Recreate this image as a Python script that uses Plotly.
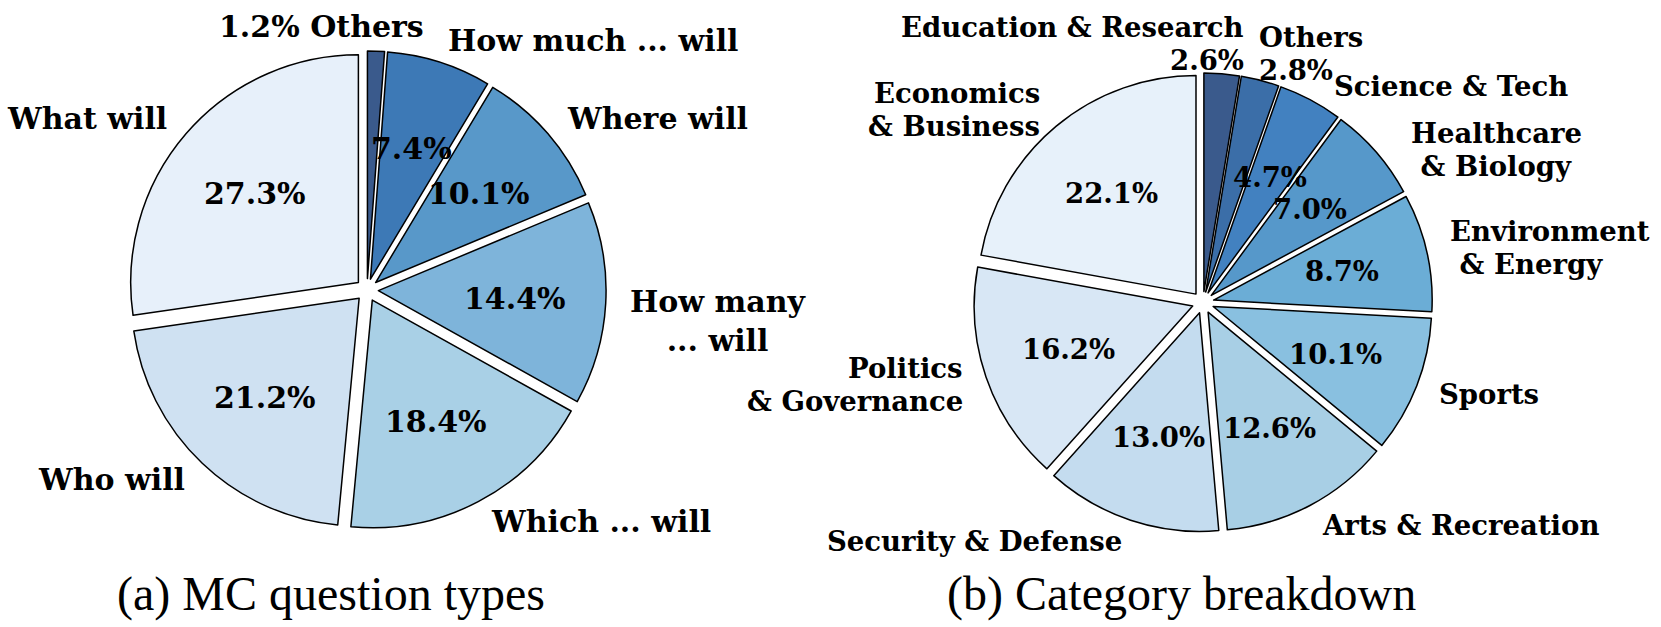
import math
import plotly.graph_objects as go

W, H = 1661, 627

# ---------------- data ----------------
mc_labels = ["Others", "How much ... will", "Where will", "How many\n... will",
             "Which ... will", "Who will", "What will"]
mc_values = [1.2, 7.4, 10.1, 14.4, 18.4, 21.2, 27.3]
mc_colors = ["#3a5a8c", "#3d79b6", "#5898c9", "#7eb4da", "#a9d0e6", "#cfe1f2", "#e7f0fa"]

cat_labels = ["Education & Research", "Others", "Science & Tech", "Healthcare\n\u00a0& Biology",
              "Environment\n\u00a0& Energy", "Sports", "Arts & Recreation", "Security & Defense",
              "Politics\n& Governance", "Economics\n& Business"]
cat_values = [2.6, 2.8, 4.7, 7.0, 8.7, 10.1, 12.6, 13.0, 16.2, 22.1]
cat_colors = ["#3a5a8c", "#3b6ea8", "#4281c0", "#5698ca", "#6badd6", "#89c0e0",
              "#a8cfe5", "#c4dcef", "#d8e7f5", "#e7f1fa"]

subtitles = ["(a) MC question types", "(b) Category breakdown"]

# ---------------- layout constants ----------------
PULL = 0.05
PCT_DIST = 0.6
LABEL_DIST = 1.1
LINE_SPACING = 1.2
SUB_FONT = dict(family="Liberation Serif", size=48, color="black")

pies = [
    dict(labels=mc_labels, values=mc_values, colors=mc_colors, cx=367, cy=290, r=227.7,
         fsize=30,
         pct_in_label={0: "{pct} {lab}"},
         single_block={3: "center"},
         nudge={0: (49, -2, "right"), 3: (0, 16, None)},
         sub=(331, 594)),
    dict(labels=cat_labels, values=cat_values, colors=cat_colors, cx=1203, cy=302.5, r=218.5,
         fsize=27.5,
         pct_in_label={0: "{lab}\n{pct}", 1: "{lab}\n{pct}"},
         single_block={},
         nudge={0: (22, -9, "right"), 1: (-9, -6, None), 2: (11, 5, None), 3: (16, 12, None)},
         sub=(1181, 594)),
]


def px(x):
    return x / W


def py(y):
    return 1 - y / H


fig = go.Figure()
annotations = []

for k, p in enumerate(pies):
    R = p["r"] * (1 + PULL)
    font = dict(family="DejaVu Serif", size=p["fsize"], color="black", weight="bold")
    fig.add_trace(go.Pie(
        labels=[l.replace("\n", " ").replace("\u00a0", "") for l in p["labels"]],
        values=p["values"],
        sort=False,
        direction="clockwise",
        rotation=0,
        pull=[PULL] * len(p["values"]),
        marker=dict(colors=p["colors"], line=dict(color="black", width=1.5)),
        textinfo="none",
        hoverinfo="label+percent",
        showlegend=False,
        domain=dict(x=[px(p["cx"] - R), px(p["cx"] + R)],
                    y=[py(p["cy"] + R), py(p["cy"] - R)]),
    ))

    total = sum(p["values"])
    cum = 0.0
    for i, (lab, v) in enumerate(zip(p["labels"], p["values"])):
        mid = (cum + v / 2) / total * 2 * math.pi
        cum += v
        dx, dy = math.sin(mid), math.cos(mid)
        pct = f"{v:.1f}%"
        # percentage text inside the wedge
        if i not in p["pct_in_label"]:
            d = (PCT_DIST + PULL) * p["r"]
            annotations.append(dict(
                x=px(p["cx"] + d * dx), y=py(p["cy"] - d * dy), xref="paper", yref="paper",
                text=pct, showarrow=False, font=font,
                xanchor="center", yanchor="middle"))
            text = lab
        else:
            text = p["pct_in_label"][i].format(pct=pct, lab=lab)
        # outer label
        d = (LABEL_DIST + PULL) * p["r"]
        lx = p["cx"] + d * dx
        ly = p["cy"] - d * dy
        xa = "left" if dx >= 0 else "right"
        ndx, ndy, nxa = p["nudge"].get(i, (0, 0, None))
        lx += ndx
        ly += ndy
        if nxa:
            xa = nxa
        if i in p["single_block"]:
            annotations.append(dict(
                x=px(lx), y=py(ly), xref="paper", yref="paper",
                text=text.replace("\n", "<br>"), showarrow=False, font=font,
                xanchor=xa, yanchor="middle", align=p["single_block"][i]))
        else:
            lines = text.split("\n")
            n = len(lines)
            step = LINE_SPACING * p["fsize"]
            for j, line in enumerate(lines):
                yy = ly + (j - (n - 1) / 2) * step
                annotations.append(dict(
                    x=px(lx), y=py(yy), xref="paper", yref="paper",
                    text=line, showarrow=False, font=font,
                    xanchor=xa, yanchor="middle"))

    sx, sy = p["sub"]
    annotations.append(dict(
        x=px(sx), y=py(sy), xref="paper", yref="paper", text=subtitles[k],
        showarrow=False, font=SUB_FONT, xanchor="center", yanchor="middle"))

fig.update_layout(
    width=W, height=H,
    margin=dict(l=0, r=0, t=0, b=0),
    paper_bgcolor="white",
    plot_bgcolor="white",
    annotations=annotations,
)

fig.write_html(
    "out.html",
    config={"displayModeBar": False},
    post_script="document.body.style.margin='0';document.body.style.overflow='hidden';",
)
